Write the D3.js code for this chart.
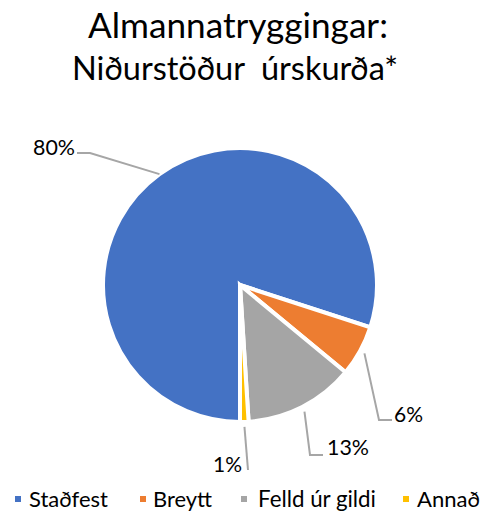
<!DOCTYPE html>
<html>
<head>
<meta charset="utf-8">
<script src="https://cdn.jsdelivr.net/npm/d3@7"></script>
<style>
  html, body { margin: 0; padding: 0; background: #fff; }
  svg { display: block; }
  text { font-family: Lato, "Open Sans", sans-serif; fill: #000; }
</style>
</head>
<body>
<svg id="chart" width="483" height="513"></svg>
<script>
// ---- data ----
const titleLines = ["Almannatryggingar:", "Niðurstöður  úrskurða*"];
const categories = ["Staðfest", "Breytt", "Felld úr gildi", "Annað"];
const values = [80, 6, 13, 1];
const colors = ["#4472C4", "#ED7D31", "#A5A5A5", "#FFC000"];

// ---- layout (positions only) ----
const W = 483, H = 513;
const cx = 240, cy = 285, R = 137;
// label layout: elbow point, text anchor point, anchor side
const labelLayout = [
  { elbow: [90, 153], end: [77, 153], tx: 75, ty: 155, anchor: "end", targetW: 42 },
  { elbow: [379, 420], end: [392, 420], tx: 394, ty: 422, anchor: "start", targetW: 29 },
  { elbow: [310, 455], end: [323, 455], tx: 327, ty: 455, anchor: "start", targetW: 42 },
  { elbow: [248, 470], end: [248, 470], tx: 242, ty: 472, anchor: "end", targetW: 29 }
];
const legendLayout = { y: 507, markerX: [15, 140, 241, 403], textX: [29, 153, 258, 417], targetW: [79, 59, 118, 63] };

const svg = d3.select("#chart");

// fit helper: scale font-size so text width matches target
function fit(sel, base, target) {
  sel.style("font-size", base + "px");
  const w = sel.node().getComputedTextLength();
  if (w > 0) sel.style("font-size", (base * target / w).toFixed(2) + "px");
}

// ---- title ----
const titleInfo = [{ y: 38, cx: 238, w: 300 }, { y: 80, cx: 235, w: 326 }];
titleLines.forEach((t, i) => {
  const el = svg.append("text")
    .attr("x", titleInfo[i].cx).attr("y", titleInfo[i].y)
    .attr("text-anchor", "middle")
    .style("white-space", "pre")
    .text(t);
  fit(el, 32, titleInfo[i].w);
});

// ---- pie ----
const pie = d3.pie().sort(null).value(d => d).startAngle(Math.PI).endAngle(3 * Math.PI);
const arcs = pie(values);
const arc = d3.arc().innerRadius(0).outerRadius(R);

const g = svg.append("g").attr("transform", `translate(${cx},${cy})`);
g.selectAll("path.slice")
  .data(arcs)
  .join("path")
  .attr("class", "slice")
  .attr("d", arc)
  .attr("fill", (d, i) => colors[i])
  .attr("stroke", "#fff")
  .attr("stroke-width", 4)
  .attr("stroke-linejoin", "miter");

// ---- leader lines & labels ----
const total = d3.sum(values);
arcs.forEach((a, i) => {
  const mid = (a.startAngle + a.endAngle) / 2;
  const r0 = R + (i === 0 ? 0 : 5);
  const sx = cx + r0 * Math.sin(mid), sy = cy - r0 * Math.cos(mid);
  const L = labelLayout[i];
  svg.append("polyline")
    .attr("points", [[sx, sy], L.elbow, L.end].map(p => p.join(",")).join(" "))
    .attr("fill", "none")
    .attr("stroke", "#A6A6A6")
    .attr("stroke-width", 2);
  const t = svg.append("text")
    .attr("x", L.tx).attr("y", L.ty)
    .attr("text-anchor", L.anchor)
    .text(Math.round(values[i] / total * 100) + "%");
  fit(t, 20, L.targetW);
});

// ---- legend ----
categories.forEach((c, i) => {
  svg.append("rect")
    .attr("x", legendLayout.markerX[i]).attr("y", legendLayout.y - 11)
    .attr("width", 6).attr("height", 6)
    .attr("fill", colors[i]);
  const t = svg.append("text")
    .attr("x", legendLayout.textX[i]).attr("y", legendLayout.y)
    .text(c);
  fit(t, 20, legendLayout.targetW[i]);
});
</script>
</body>
</html>
